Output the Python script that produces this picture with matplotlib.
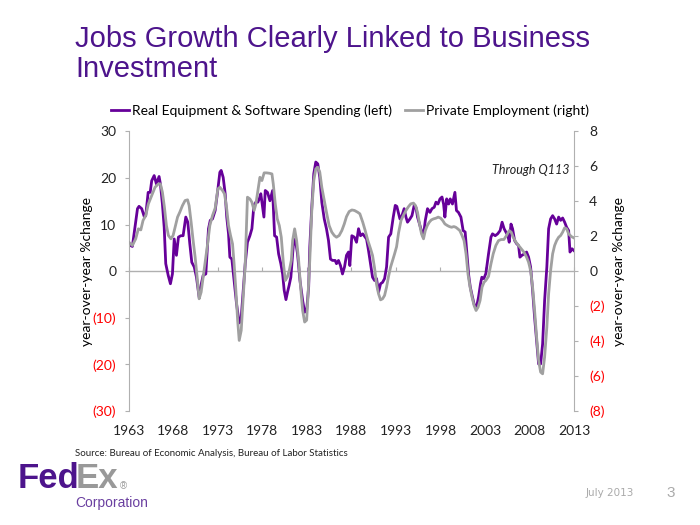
import matplotlib
matplotlib.use("Agg")
import matplotlib.pyplot as plt
import numpy as np

plt.rcParams["font.family"] = ["Lato", "DejaVu Sans"]

# quarters since 1963Q1, year-over-year % change
eq_qtr = [0, 1.6, 3.9, 4.6, 5.8, 7, 7.6, 8.7, 9.6, 10.3, 11.4, 12.4, 13.6, 14.2, 15.1, 15.9,
          16.6, 17.7, 18.7, 19.6, 20.4, 21.4, 22.3, 23.4, 24.4, 25.6, 26.5, 27.4, 28.3, 29.4,
          30.4, 31.6, 32.4, 33.4, 34.6, 35.8, 36.6, 37.6, 38.8, 40, 40.9, 41.5, 42.4, 43.3,
          44, 44.8, 45.4, 46.3, 47.3, 48.4, 49.6, 50.4, 51.4, 52.3, 53.3, 54.4, 55.3, 56.2,
          57.1, 58, 58.6, 59.3, 60.1, 60.7, 61.3, 62.3, 63.4, 64.6, 65.5, 66.4, 67.3, 68.3,
          69.1, 69.8, 70.6, 71.3, 72, 72.8, 73.9, 74.8, 75.8, 76.9, 78.1, 79, 79.9, 80.8,
          81.3, 82.2, 83.1, 84, 84.9, 85.8, 86.7, 87.8, 88.8, 89.7, 90.6, 91.5, 92.7, 93.3,
          94.2, 95.1, 96, 96.9, 97.8, 98.7, 99.3, 100.2, 101.3, 102.3, 103.2, 104.1, 105.1,
          106.8, 107.7, 108.6, 109.5, 110.4, 111.3, 112.2, 113.1, 114, 114.9, 115.8, 116.7,
          117.7, 118.8, 119.7, 120.4, 121.8, 122.7, 123.7, 124.5, 125.2, 126.3, 127.2, 128.2,
          129, 129.7, 130.8, 131.7, 132.3, 133.2, 134.2, 135.3, 136.2, 137.2, 138, 138.9,
          139.8, 140.7, 141.4, 142, 142.8, 143.7, 144.4, 145.4, 146.5, 147.2, 148.1, 149.2,
          150.2, 151.1, 151.9, 152.7, 153.4, 154.4, 155.3, 156.2, 157.1, 158, 158.6, 159.5,
          160.4, 161.6, 162.7, 163.4, 164.6, 165.7, 166.8, 167.7, 168.6, 169.4, 170.3, 170.9,
          171.7, 172.4, 173.3, 174.2, 175.1, 175.7, 176.6, 177.7, 178.7, 179.6, 180.5, 181.4,
          182.3, 183.2, 184.1, 185, 185.9, 186.8, 187.8, 188.6, 189.5, 190.4, 191.3, 192.2,
          193.1, 194, 194.9, 195.8, 196.7, 197.6, 198.2, 199.1, 200]
eq_pct = [5.7, 5.3, 13.4, 13.9, 13.4, 11.6, 11.9, 16.9, 16.9, 19.4, 20.5, 18.7, 20.3, 18.7, 14.4, 9.4,
          1.6, -0.9, -2.7, -0.6, 6.9, 3.4, 7.3, 7.6, 7.6, 11.6, 10.5, 5.9, 1.9, 0.9,
          -1.3, -5.6, -3.1, -0.9, -0.6, 9.1, 10.9, 11.2, 13.0, 17.5, 21.2, 21.6, 20.1, 16.6,
          11.6, 8.0, 3.0, 2.6, -2.0, -7.0, -11.1, -10.6, -4.1, 1.6, 6.2, 7.6, 9.1, 14.1,
          14.8, 14.8, 15.5, 16.6, 13.7, 11.6, 17.3, 16.9, 15.1, 17.3, 7.6, 7.3, 3.7, 1.6,
          -0.6, -4.1, -6.1, -4.5, -3.1, -1.3, 5.5, 6.9, 3.7, -2.0, -6.3, -8.8, -8.4, -3.4,
          5.1, 13.7, 20.9, 23.4, 23.0, 20.1, 14.8, 11.2, 9.1, 6.6, 2.6, 2.3, 2.3, 1.6,
          2.3, 1.2, -0.6, 0.9, 3.4, 4.1, 1.2, 7.6, 7.3, 6.2, 9.1, 7.6, 8.0,
          6.9, 4.4, 1.6, -1.3, -2.0, -1.6, -4.5, -2.7, -2.4, -1.6, 0.9, 7.3,
          8.0, 11.6, 14.1, 13.9, 11.2, 11.9, 13.4, 11.6, 10.5, 11.2, 11.9, 14.1,
          13.7, 11.6, 9.8, 8.4, 7.3, 10.9, 13.4, 12.6, 13.4, 13.7, 14.8, 14.4,
          15.5, 15.9, 14.4, 11.6, 15.5, 14.4, 15.5, 14.4, 16.9, 13.0, 12.6, 11.6,
          8.7, 8.4, 3.7, -0.9, -3.4, -5.6, -7.4, -7.7, -5.6, -2.7, -1.3, -1.6,
          -0.5, 3.7, 7.3, 8.0, 7.6, 8.0, 8.7, 10.5, 9.1, 8.4, 7.6, 6.2,
          10.1, 9.1, 6.6, 5.9, 5.5, 3.0, 3.4, 3.7, 4.1, 3.0, 0.9, -4.1,
          -9.9, -14.9, -19.9, -19.9, -15.6, -6.3, 0.9, 9.1, 11.2, 11.9, 11.2, 10.1,
          11.6, 10.9, 11.4, 10.5, 9.4, 8.7, 4.1, 4.8, 4.4]

emp_qtr = [0, 1.6, 3.1, 4.3, 5.4, 6.4, 7.6, 8.8, 10.3, 11.8, 13.3, 14.2, 15.1, 16, 16.9, 17.8,
           18.9, 19.9, 20.8, 21.9, 22.9, 24.1, 25.3, 26.4, 27.1, 28, 28.9, 29.8, 30.7, 31.6,
           32.5, 33.4, 34.3, 35.4, 36.4, 37.6, 38.8, 40, 40.9, 42.1, 43, 43.9, 44.8, 45.7,
           46.6, 47.3, 48.1, 48.9, 49.6, 50.5, 51.4, 52.3, 53.3, 54.4, 55.3, 56.3, 57.1, 58,
           58.9, 59.8, 60.8, 61.9, 63.1, 64.3, 64.9, 65.8, 66.7, 67.6, 68.5, 69.4, 70.3, 71.2,
           72.1, 73, 73.6, 74.5, 75.4, 76.3, 77.2, 78.1, 79, 79.9, 80.4, 81.3, 82.2, 83.1,
           84, 84.9, 85.8, 86.7, 87.8, 88.8, 90, 91.2, 92.3, 93.3, 94.5, 95.7, 96.8, 97.8,
           99, 100.2, 101.4, 102.8, 103.8, 105.1, 106.2, 107.4, 108.6, 109.5, 110.4, 111.3,
           112.2, 113.1, 114, 114.9, 115.8, 116.7, 117.6, 118.5, 119.4, 120.3, 121.2, 122.3,
           123.3, 124.5, 125.7, 126.7, 127.9, 128.8, 129.7, 130.6, 131.5, 132.4, 133.2, 134.1,
           135, 135.9, 136.9, 138, 139, 140.1, 141, 142, 143.1, 144, 145, 146, 146.9, 147.8,
           148.7, 149.7, 150.6, 151.5, 152.4, 153.3, 154.2, 155.1, 156, 156.9, 157.8, 158.7,
           159.6, 160.4, 161.6, 162.7, 163.7, 164.9, 166.1, 167.3, 168.5, 169.7, 170.9, 171.8,
           172.7, 173.9, 175.1, 176.3, 177.5, 178.7, 179.6, 180.5, 181.4, 182.3, 183.2, 184.1,
           185, 185.9, 186.8, 187.8, 188.6, 189.5, 190.4, 191.3, 192.2, 193.1, 194, 194.9,
           195.8, 196.7, 197.6, 198.8, 200]
emp_pct = [1.66, 1.47, 1.85, 2.42, 2.36, 2.90, 3.18, 3.85, 4.32, 4.80, 4.99, 4.99, 4.51, 3.66, 2.61, 2.04,
           1.85, 2.04, 2.51, 3.09, 3.37, 3.75, 4.04, 4.08, 3.75, 2.80, 1.75, 0.80, -0.34, -1.58,
           -1.20, -0.34, 0.51, 1.56, 2.61, 3.18, 3.6, 4.7, 4.80, 4.61, 4.42, 3.66, 2.61, 2.04,
           1.56, 0.42, -1.10, -2.82, -3.96, -3.39, -1.49, 0.42, 4.23, 4.13, 3.94, 3.47, 3.85, 4.61,
           5.37, 5.18, 5.62, 5.62, 5.60, 5.56, 4.99, 3.85, 2.99, 2.61, 1.94, 0.51, -0.53, -0.34,
           0.04, 0.61, 1.75, 2.42, 1.75, 0.61, -0.95, -2.25, -2.91, -2.8, -1.68, 0.61, 3.47, 5.18,
           5.85, 5.94, 5.66, 4.80, 4.04, 3.37, 2.61, 2.23, 2.04, 1.94, 2.04, 2.32, 2.70, 3.12,
           3.41, 3.50, 3.47, 3.37, 3.28, 2.80, 2.32, 1.75, 1.28, 0.90, 0.19, -0.76,
           -1.30, -1.64, -1.58, -1.39, -0.91, -0.29, 0.23, 0.61, 0.99, 1.4, 2.2, 2.90,
           3.18, 3.47, 3.70, 3.85, 3.89, 3.75, 3.37, 2.70, 2.13, 1.85, 2.32, 2.61,
           2.80, 2.93, 2.99, 3.03, 3.09, 3.03, 2.90, 2.70, 2.61, 2.55, 2.51, 2.55, 2.51, 2.42,
           2.32, 2.04, 1.75, 0.99, -0.19, -0.91, -1.49, -1.96, -2.25, -2.06, -1.68, -0.91,
           -0.63, -0.53, -0.3, 0.42, 0.99, 1.47, 1.75, 1.81, 1.81, 2.04, 2.32, 2.23,
           1.94, 1.66, 1.47, 1.28, 1.09, 0.80, 0.51, 0.04, -0.91, -2.25, -3.77, -5.10,
           -5.77, -5.87, -4.91, -3.20, -1.30, 0.04, 0.99, 1.47, 1.75, 1.94, 2.04, 2.23,
           2.48, 2.42, 2.13, 1.98, 1.90]

year_ticks = [1963, 1968, 1973, 1978, 1983, 1988, 1993, 1998, 2003, 2008, 2013]
left_ticks = [-30, -20, -10, 0, 10, 20, 30]
right_ticks = [-8, -6, -4, -2, 0, 2, 4, 6, 8]

purple = "#660099"
grey = "#a0a0a0"
title_purple = "#4d148c"
axis_grey = "#b0b0b0"


def paren(v):
    return f"({abs(v)})" if v < 0 else f"{v}"


fig = plt.figure(figsize=(7, 5.25), dpi=100)
ax = fig.add_axes([0.184, 0.217, 0.636, 0.533])
ax2 = ax.twinx()

eq_years = 1963 + np.array(eq_qtr) / 4
emp_years = 1963 + np.array(emp_qtr) / 4

l1, = ax.plot(eq_years, eq_pct, color=purple, lw=2.0, label="Real Equipment & Software Spending (left)")
l2, = ax2.plot(emp_years, emp_pct, color=grey, lw=2.0, label="Private Employment (right)")

ax.set_xlim(1963, 2013)
ax.set_ylim(-30, 30)
ax2.set_ylim(-8, 8)

for a in (ax, ax2):
    for s in a.spines.values():
        s.set_visible(False)

ax.spines["left"].set_visible(True)
ax.spines["left"].set_color(axis_grey)
ax2.spines["right"].set_visible(True)
ax2.spines["right"].set_color(axis_grey)

ax.set_yticks(left_ticks, [paren(v) for v in left_ticks])
ax2.set_yticks(right_ticks, [paren(v) for v in right_ticks])
for lab, v in zip(ax.get_yticklabels(), left_ticks):
    lab.set_color("red" if v < 0 else "#222222")
for lab, v in zip(ax2.get_yticklabels(), right_ticks):
    lab.set_color("red" if v < 0 else "#222222")
ax.tick_params(axis="y", length=3, color=axis_grey, labelsize=10, pad=6)
ax2.tick_params(axis="y", length=3, color=axis_grey, labelsize=10, pad=8)

ax.set_xticks(year_ticks, [str(y) for y in year_ticks])
ax.tick_params(axis="x", length=0, labelsize=10, pad=10, labelcolor="#222222")

# zero line with small ticks hanging below it
zero_axis = ax.secondary_xaxis(0.5)
zero_axis.set_xticks(year_ticks, [""] * len(year_ticks))
zero_axis.tick_params(length=3, color=axis_grey)
for s in zero_axis.spines.values():
    s.set_color(axis_grey)
    s.set_linewidth(1.0)

ax.set_ylabel("year-over-year %change", fontsize=10, labelpad=0)
ax2.set_ylabel("year-over-year %change", fontsize=10, rotation=90, labelpad=6)

ax.text(0.99, 0.86, "Through Q113", transform=ax.transAxes, ha="right", va="center",
        fontsize=9, style="italic", color="#222222")

fig.legend(handles=[l1, l2], loc="center", bbox_to_anchor=(0.5, 1 - 111 / 525), ncol=2,
           frameon=False, fontsize=10, handlelength=1.3, handletextpad=0.2, columnspacing=0.9)

fig.text(75 / 700, 1 - 54 / 525, "Jobs Growth Clearly Linked to Business\nInvestment",
         family="Liberation Sans", fontsize=21, color=title_purple, ha="left", va="center",
         linespacing=1.1)

fig.text(75 / 700, 1 - 453 / 525, "Source: Bureau of Economic Analysis, Bureau of Labor Statistics",
         fontsize=7, color="#222222", ha="left", va="center")

# logo block
fig.text(18 / 700, 1 - 478 / 525, "Fed", family="Liberation Sans", fontsize=25, weight="bold",
         color=title_purple, ha="left", va="center")
fig.text(76 / 700, 1 - 478 / 525, "Ex", family="Liberation Sans", fontsize=25, weight="bold",
         color="#999999", ha="left", va="center")
fig.text(123 / 700, 1 - 486 / 525, "\u00ae", family="Liberation Sans", fontsize=7,
         color="#999999", ha="center", va="center")
fig.text(75 / 700, 1 - 503 / 525, "Corporation", family="Liberation Sans", fontsize=10,
         color="#6a3fa0", ha="left", va="center")
fig.text(610 / 700, 1 - 493 / 525, "July 2013", family="Liberation Sans Narrow", fontsize=7.5,
         color="#aaaaaa", ha="center", va="center")
fig.text(671 / 700, 1 - 493 / 525, "3", family="Liberation Sans", fontsize=11,
         color="#aaaaaa", ha="center", va="center")

fig.savefig("out.png", dpi=100)
